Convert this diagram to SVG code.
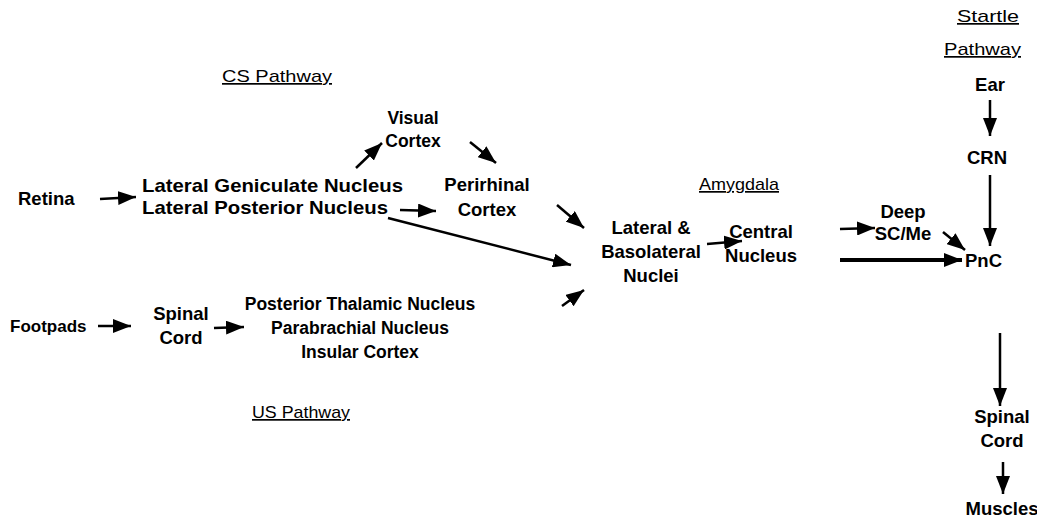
<svg xmlns="http://www.w3.org/2000/svg" width="1037" height="524" viewBox="0 0 1037 524">
<style>
.n{font-family:"Liberation Sans",Arial,sans-serif;font-weight:bold;font-size:18.5px;fill:#000}
.s{font-size:17.5px}
.h{font-family:"Liberation Sans",Arial,sans-serif;font-size:17px;fill:#000;text-decoration:underline}
.c{text-anchor:middle}
.a{stroke:#000;stroke-width:2.5;fill:none;marker-end:url(#ah)}
.t{stroke:#000;stroke-width:4;fill:none;marker-end:url(#ah)}
</style>
<defs>
<marker id="ah" markerUnits="userSpaceOnUse" markerWidth="20" markerHeight="14" refX="18" refY="7" orient="auto">
<path d="M0,0 L18,7 L0,14 z" fill="#000"/>
</marker>
</defs>
<rect width="1037" height="524" fill="#fff"/>
<g id="labels">
<text class="h" x="222" y="82" textLength="110" lengthAdjust="spacingAndGlyphs">CS Pathway</text>
<text class="h" x="252" y="418" textLength="98" lengthAdjust="spacingAndGlyphs">US Pathway</text>
<text class="h" x="699" y="190" textLength="80" lengthAdjust="spacingAndGlyphs">Amygdala</text>
<text class="h" x="957" y="22" textLength="62" lengthAdjust="spacingAndGlyphs">Startle</text>
<text class="h" x="944" y="55" textLength="77" lengthAdjust="spacingAndGlyphs">Pathway</text>
</g>
<g id="retina"><text class="n" x="18" y="205">Retina</text></g>
<g id="lgn"><text class="n" x="142" y="192" textLength="261" lengthAdjust="spacingAndGlyphs">Lateral Geniculate Nucleus</text><text class="n" x="142" y="214" textLength="246" lengthAdjust="spacingAndGlyphs">Lateral Posterior Nucleus</text></g>
<g id="visual"><text class="n s c" x="413" y="124">Visual</text><text class="n s c" x="413" y="147">Cortex</text></g>
<g id="perirhinal"><text class="n c" x="487" y="191">Perirhinal</text><text class="n c" x="487" y="216">Cortex</text></g>
<g id="lateral"><text class="n c" x="651" y="234">Lateral &amp;</text><text class="n c" x="651" y="258">Basolateral</text><text class="n c" x="651" y="282">Nuclei</text></g>
<g id="central"><text class="n c" x="761" y="238">Central</text><text class="n c" x="761" y="262">Nucleus</text></g>
<g id="deep"><text class="n c" x="903" y="218">Deep</text><text class="n c" x="903" y="240">SC/Me</text></g>
<g id="pnc"><text class="n" x="965" y="267">PnC</text></g>
<g id="ear"><text class="n c" x="990" y="91">Ear</text></g>
<g id="crn"><text class="n c" x="987" y="164">CRN</text></g>
<g id="spinal2"><text class="n c" x="1002" y="423">Spinal</text><text class="n c" x="1002" y="447">Cord</text></g>
<g id="muscles"><text class="n c" x="1002" y="515">Muscles</text></g>
<g id="footpads"><text class="n" x="10" y="332" style="font-size:17px">Footpads</text></g>
<g id="spinal1"><text class="n c" x="181" y="320">Spinal</text><text class="n c" x="181" y="344">Cord</text></g>
<g id="posterior"><text class="n s c" x="360" y="310">Posterior Thalamic Nucleus</text><text class="n s c" x="360" y="334">Parabrachial Nucleus</text><text class="n s c" x="360" y="358">Insular Cortex</text></g>
<g id="connectors">
<line class="a" x1="100" y1="199" x2="136" y2="197"/>
<line class="a" x1="356" y1="168" x2="382" y2="143"/>
<line class="a" x1="470" y1="142" x2="496" y2="163"/>
<line class="a" x1="400" y1="210" x2="436" y2="211"/>
<line class="a" x1="557" y1="205" x2="584" y2="228"/>
<line class="a" x1="388" y1="218" x2="571" y2="265"/>
<line class="a" x1="707" y1="244" x2="742" y2="241"/>
<line class="a" x1="840" y1="229" x2="875" y2="228"/>
<line class="a" x1="943" y1="232" x2="965" y2="250"/>
<line class="t" x1="840" y1="260" x2="962" y2="260"/>
<line class="a" x1="990" y1="100" x2="990" y2="136"/>
<line class="a" x1="990" y1="175" x2="990" y2="246"/>
<line class="a" x1="1000" y1="333" x2="1000" y2="406"/>
<line class="a" x1="1003" y1="462" x2="1003" y2="494"/>
<line class="a" x1="98" y1="326" x2="131" y2="326"/>
<line class="a" x1="214" y1="328" x2="244" y2="327"/>
<line class="a" x1="562" y1="306" x2="584" y2="290"/>
</g>
</svg>
